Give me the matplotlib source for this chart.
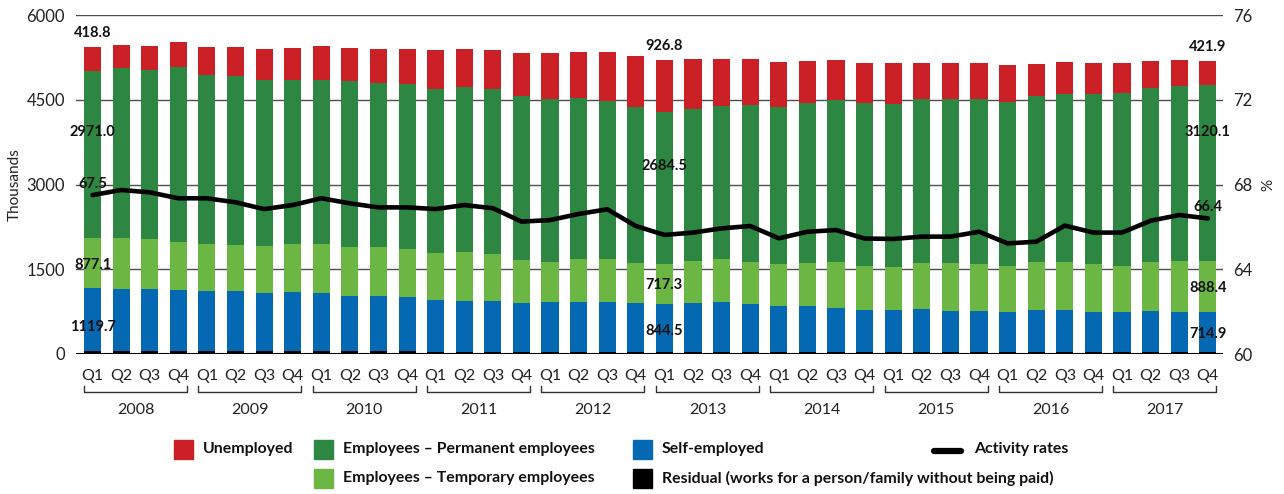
import matplotlib
matplotlib.use("Agg")
import matplotlib.pyplot as plt
from matplotlib.patches import Rectangle
from matplotlib.lines import Line2D
from matplotlib.transforms import blended_transform_factory
import numpy as np

plt.rcParams['font.family'] = ['Lato', 'DejaVu Sans']

years = ["2008", "2009", "2010", "2011", "2012", "2013", "2014", "2015", "2016", "2017"]
quarters = ["Q1", "Q2", "Q3", "Q4"]

# thousands of people, per quarter 2008Q1 .. 2017Q4
residual = [48, 50, 50, 50, 48, 48, 48, 48, 45, 45, 45, 45, 42, 42, 42, 42, 40, 40, 40, 40,
            35, 35, 35, 35, 35, 35, 35, 35, 35, 35, 35, 35, 35, 35, 35, 35, 35, 35, 35, 35]
self_employed = [1119.7, 1100, 1100, 1083, 1067, 1067, 1032, 1049, 1035, 982, 982, 964,
                 914, 896, 896, 861, 880, 880, 880, 863, 844.5, 868, 885, 850,
                 815, 815, 779, 744, 744, 761, 726, 726, 708, 744, 744, 708, 708, 726, 708, 714.9]
temporary = [877.1, 903, 885, 849, 832, 814, 831, 850, 867, 867, 867, 849,
             832, 867, 832, 761, 708, 761, 761, 708, 717.3, 743, 761, 743,
             743, 761, 814, 779, 761, 815, 850, 832, 815, 849, 849, 850, 815, 867, 903, 888.4]
permanent = [2971.0, 3015, 2998, 3098, 2991, 2991, 2939, 2903, 2903, 2938, 2903, 2921,
             2902, 2921, 2920, 2902, 2885, 2850, 2797, 2761, 2684.5, 2690, 2708, 2779,
             2779, 2831, 2868, 2884, 2885, 2902, 2902, 2920, 2902, 2938, 2974, 3009, 3061, 3080, 3097, 3120.1]
unemployed = [418.8, 401, 418, 442, 496, 514, 548, 566, 601, 584, 601, 619,
              691, 672, 691, 761, 814, 814, 867, 902, 926.8, 885, 832, 814,
              796, 744, 708, 708, 725, 637, 637, 637, 655, 567, 566, 548, 531, 478, 461, 421.9]
# activity rate, %
activity = [67.5, 67.74, 67.63, 67.35, 67.35, 67.16, 66.84, 67.03, 67.35, 67.11, 66.92, 66.92,
            66.84, 67.03, 66.88, 66.25, 66.32, 66.61, 66.83, 66.04, 65.62, 65.73, 65.93, 66.04,
            65.46, 65.77, 65.85, 65.45, 65.43, 65.54, 65.54, 65.77, 65.22, 65.30, 66.06, 65.73,
            65.73, 66.29, 66.56, 66.4]

labelled = [0, 20, 39]  # quarters with value labels

series = [
    ("Residual (works for a person/family without being paid)", residual, "#000000"),
    ("Self-employed", self_employed, "#0568b3"),
    ("Employees \u2013 Temporary employees", temporary, "#6cb644"),
    ("Employees \u2013 Permanent employees", permanent, "#2d8641"),
    ("Unemployed", unemployed, "#cc2027"),
]

W, H = 1284, 494
fig = plt.figure(figsize=(W / 100, H / 100), dpi=100)
ax = fig.add_axes([76 / W, 1 - 354 / H, (1223 - 76) / W, 339 / H])

x = np.arange(len(unemployed))
bottom = np.zeros(len(x))
mids = {}
for name, vals, col in series:
    vals = np.array(vals, dtype=float)
    ax.bar(x, vals, 0.6, bottom=bottom, color=col, zorder=2)
    mids[name] = bottom + vals / 2
    bottom = bottom + vals
tops = bottom

ax.set_xlim(-0.577, 39.53)
ax.set_ylim(0, 6000)
ax.set_yticks([0, 1500, 3000, 4500, 6000])
ax.yaxis.grid(True, color="#4d4d4d", lw=1.0, zorder=0)
ax.axhline(0, color="#000000", lw=2.2, zorder=3)
for s in ax.spines.values():
    s.set_visible(False)
ax.tick_params(axis="y", length=0, pad=8, labelsize=12, labelcolor="#222222")
ax.set_xticks(x)
ax.set_xticklabels(quarters * len(years))
ax.tick_params(axis="x", length=0, pad=11, labelsize=11.5, labelcolor="#222222")

# year brackets
tr = blended_transform_factory(ax.transData, ax.transAxes)
for k, yr in enumerate(years):
    x0, x1 = 4 * k - 0.3, 4 * k + 3.3
    ax.add_line(Line2D([x0, x0, x1, x1], [-0.094, -0.112, -0.112, -0.094], transform=tr,
                       color="#333333", lw=1.0, clip_on=False))
    ax.text((x0 + x1) / 2, -0.165, yr, transform=tr, ha="center", va="center",
            fontsize=11.5, color="#222222")

ax2 = ax.twinx()
ax2.plot(x, activity, color="#000000", lw=3.3, solid_capstyle="round", zorder=5)
ax2.set_ylim(60, 76)
ax2.set_yticks([60, 64, 68, 72, 76])
for s in ax2.spines.values():
    s.set_visible(False)
ax2.tick_params(axis="y", length=0, pad=7, labelsize=12, labelcolor="#222222")

# value labels
perm_off = {0: 16, 20: 16, 39: 30}
self_off = {0: -5, 20: -2, 39: -1.5}
lab = dict(ha="center", va="center", fontsize=10.5, fontweight="bold", color="#111111",
           textcoords="offset points", zorder=6)
for i in labelled:
    ax.annotate(f"{unemployed[i]:.1f}", (x[i], tops[i]), xytext=(0, 10), **lab)
    ax.annotate(f"{permanent[i]:.1f}", (x[i], mids[series[3][0]][i]), xytext=(0, perm_off[i]), **lab)
    ax.annotate(f"{temporary[i]:.1f}", (x[i], mids[series[2][0]][i]), xytext=(0, -1), **lab)
    ax.annotate(f"{self_employed[i]:.1f}", (x[i], mids[series[1][0]][i]), xytext=(0, self_off[i]), **lab)
for i in [0, 39]:
    ax2.annotate(f"{activity[i]:.1f}", (x[i], activity[i]), xytext=(0, 8), **lab)

fig.text(15 / W, 1 - 185 / H, "Thousands", rotation=90, ha="center", va="center",
         fontsize=11, color="#222222")
fig.text(1268 / W, 1 - 185 / H, "%", rotation=90, ha="center", va="center",
         fontsize=11, color="#222222")

# legend, laid out by hand
def patch_entry(px, py, col, text):
    fig.add_artist(Rectangle(((px) / W, 1 - (py + 9.5) / H), 19 / W, 19 / H,
                             transform=fig.transFigure, color=col))
    fig.text((px + 29) / W, 1 - py / H, text, ha="left", va="center",
             fontsize=11.4, fontweight="bold", color="#111111")

names = {name: col for name, _, col in series}
patch_entry(174, 449, names["Unemployed"], "Unemployed")
patch_entry(314, 449, names["Employees \u2013 Permanent employees"], "Employees \u2013 Permanent employees")
patch_entry(633, 449, names["Self-employed"], "Self-employed")
patch_entry(314, 478, names["Employees \u2013 Temporary employees"], "Employees \u2013 Temporary employees")
patch_entry(633, 478, names["Residual (works for a person/family without being paid)"],
            "Residual (works for a person/family without being paid)")
fig.add_artist(Line2D([934 / W, 961 / W], [1 - 451 / H, 1 - 451 / H], transform=fig.transFigure,
                      color="#000000", lw=4.5, solid_capstyle="round"))
fig.text(974 / W, 1 - 449 / H, "Activity rates", ha="left", va="center",
         fontsize=11.4, fontweight="bold", color="#111111")

fig.savefig("out.png", dpi=100)
